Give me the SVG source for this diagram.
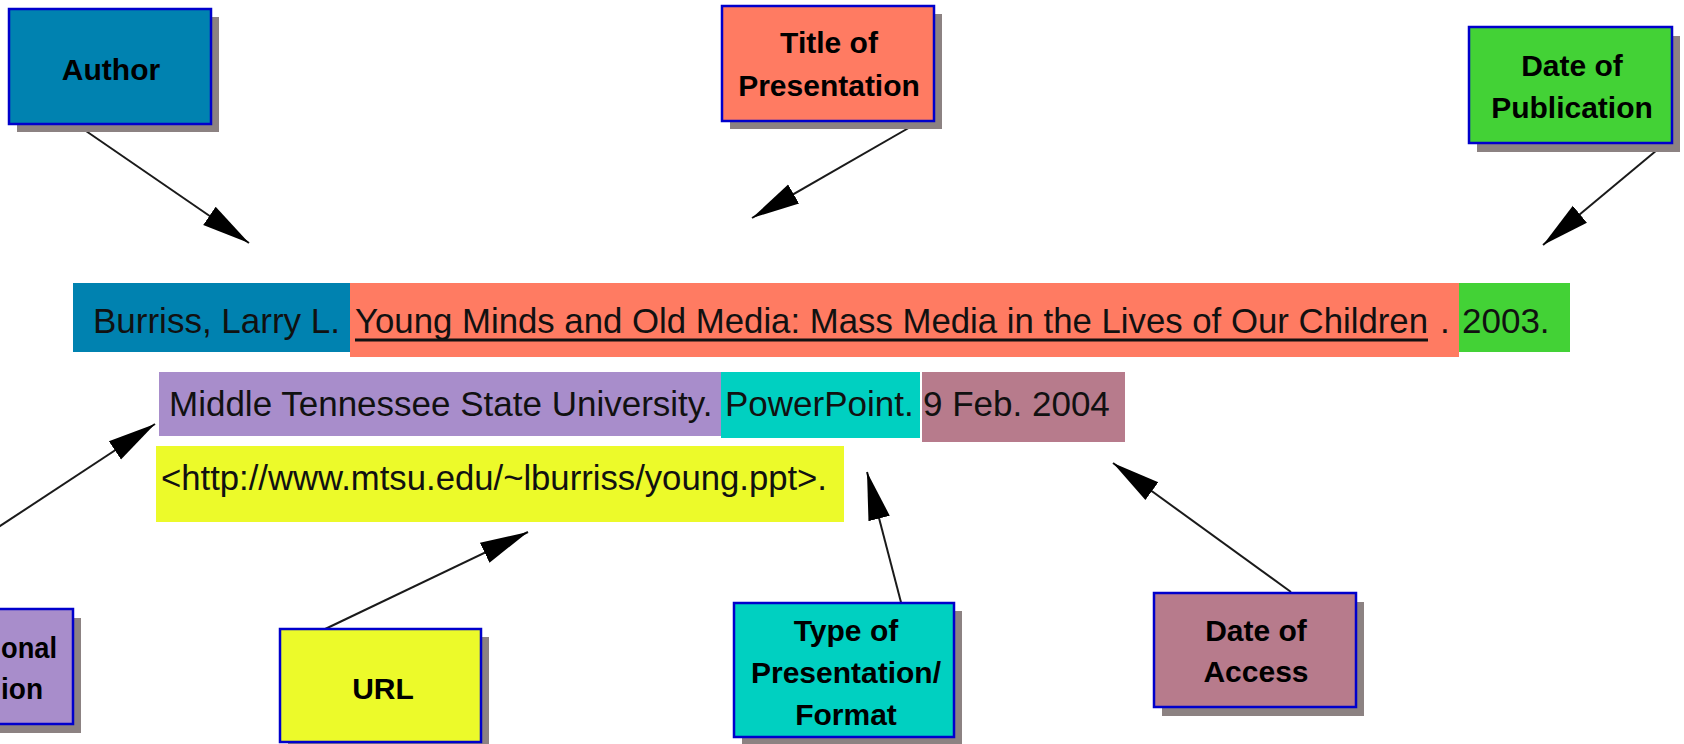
<svg xmlns="http://www.w3.org/2000/svg" width="1684" height="744" viewBox="0 0 1684 744">
  <style>
    .box { stroke: #0000CC; stroke-width: 2.5; }
    .shadow { fill: #8C8282; }
    .lbl { font-family: "Liberation Sans", Arial, sans-serif; font-weight: bold; font-size: 30px; fill: #000; text-anchor: middle; }
    .cite { font-family: "Liberation Sans", Arial, sans-serif; font-size: 35px; fill: #111; }
    .conn { stroke: #1a1a1a; stroke-width: 2; fill: none; marker-end: url(#arrow); }
  </style>
  <defs>
    <marker id="arrow" markerUnits="userSpaceOnUse" markerWidth="50" markerHeight="24" refX="48" refY="12" orient="auto">
      <path d="M0,1 L48,12 L0,23 Z" fill="#000"/>
    </marker>
  </defs>
  <rect width="1684" height="744" fill="#fff"/>

  <!-- citation segments -->
  <g id="citation">
    <rect x="73" y="283" width="280" height="69" fill="#0082B0"/>
    <rect x="350" y="283" width="1109" height="74" fill="#FF7B62"/>
    <rect x="1459" y="283" width="111" height="69" fill="#43D236"/>
    <rect x="159" y="372" width="567" height="64" fill="#A88DCB"/>
    <rect x="721" y="372" width="199" height="66" fill="#00D0C1"/>
    <rect x="922" y="372" width="203" height="70" fill="#B77B8C"/>
    <rect x="156" y="446" width="688" height="76" fill="#ECFA2A"/>
    <text class="cite" x="93" y="333">Burriss, Larry L.</text>
    <text class="cite" x="355" y="333" textLength="1073" lengthAdjust="spacingAndGlyphs">Young Minds and Old Media: Mass Media in the Lives of Our Children</text>
    <line x1="355" y1="340" x2="1428" y2="340" stroke="#111" stroke-width="3"/>
    <text class="cite" x="1440" y="333">.</text>
    <text class="cite" x="1462" y="333">2003.</text>
    <text class="cite" x="169" y="416">Middle Tennessee State University.</text>
    <text class="cite" x="725" y="416">PowerPoint.</text>
    <text class="cite" x="923" y="416">9 Feb. 2004</text>
    <text class="cite" x="161" y="490" textLength="666" lengthAdjust="spacingAndGlyphs">&lt;http://www.mtsu.edu/~lburriss/young.ppt&gt;.</text>
  </g>

  <!-- connectors -->
  <g id="connectors">
    <line class="conn" x1="86" y1="131" x2="249" y2="243"/>
    <line class="conn" x1="919" y1="122" x2="752" y2="218"/>
    <line class="conn" x1="1657" y1="150" x2="1543" y2="245"/>
    <line class="conn" x1="-6" y1="530" x2="155" y2="424"/>
    <line class="conn" x1="321" y1="631" x2="528" y2="532"/>
    <line class="conn" x1="903" y1="610" x2="867" y2="472"/>
    <line class="conn" x1="1291" y1="592" x2="1113" y2="463"/>
  </g>

  <g id="author">
    <rect class="shadow" x="17" y="17" width="202" height="115"/>
    <rect class="box" x="9" y="9" width="202" height="115" fill="#0082B0"/>
    <text class="lbl" x="111" y="80">Author</text>
  </g>

  <g id="title">
    <rect class="shadow" x="730" y="14" width="212" height="115"/>
    <rect class="box" x="722" y="6" width="212" height="115" fill="#FF7B62"/>
    <text class="lbl" x="829" y="53">Title of</text>
    <text class="lbl" x="829" y="96">Presentation</text>
  </g>

  <g id="date-publication">
    <rect class="shadow" x="1477" y="36" width="203" height="116"/>
    <rect class="box" x="1469" y="27" width="203" height="116" fill="#43D236"/>
    <text class="lbl" x="1572" y="76">Date of</text>
    <text class="lbl" x="1572" y="118">Publication</text>
  </g>

  <g id="institution">
    <rect class="shadow" x="-130" y="618" width="211" height="115"/>
    <rect class="box" x="-138" y="609" width="211" height="115" fill="#A88DCB"/>
    <text class="lbl" x="1" y="658" style="text-anchor:start" textLength="56" lengthAdjust="spacingAndGlyphs">onal</text>
    <text class="lbl" x="1" y="699" style="text-anchor:start" textLength="42" lengthAdjust="spacingAndGlyphs">ion</text>
  </g>

  <g id="url">
    <rect class="shadow" x="288" y="637" width="201" height="114"/>
    <rect class="box" x="280" y="629" width="201" height="113" fill="#ECFA2A"/>
    <text class="lbl" x="383" y="699">URL</text>
  </g>

  <g id="type-format">
    <rect class="shadow" x="742" y="611" width="220" height="134"/>
    <rect class="box" x="734" y="603" width="220" height="134" fill="#00D0C1"/>
    <text class="lbl" x="846" y="641">Type of</text>
    <text class="lbl" x="846" y="683">Presentation/</text>
    <text class="lbl" x="846" y="725">Format</text>
  </g>

  <g id="date-access">
    <rect class="shadow" x="1162" y="602" width="202" height="114"/>
    <rect class="box" x="1154" y="593" width="202" height="114" fill="#B77B8C"/>
    <text class="lbl" x="1256" y="641">Date of</text>
    <text class="lbl" x="1256" y="682">Access</text>
  </g>
</svg>
